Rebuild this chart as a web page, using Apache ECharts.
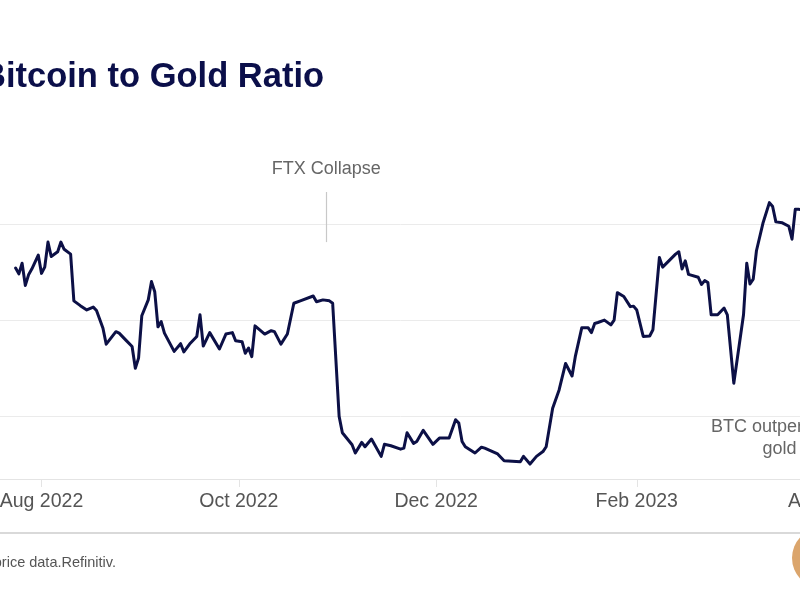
<!DOCTYPE html>
<html>
<head>
<meta charset="utf-8">
<script src="https://cdn.jsdelivr.net/npm/echarts@6/dist/echarts.min.js"></script>
<style>
html,body{margin:0;padding:0;background:#fff;}
#chart{width:800px;height:600px;}
</style>
</head>
<body>
<div id="chart"></div>
<script>
// ---- data ----
const dates = [
'2022-07-24','2022-07-25','2022-07-26','2022-07-27','2022-07-28','2022-07-29','2022-07-31',
'2022-08-01','2022-08-02','2022-08-03','2022-08-04','2022-08-06','2022-08-07','2022-08-08','2022-08-10','2022-08-11','2022-08-13','2022-08-15','2022-08-17','2022-08-18','2022-08-20','2022-08-21','2022-08-24','2022-08-25','2022-08-27','2022-08-29','2022-08-30','2022-08-31',
'2022-09-01','2022-09-03','2022-09-04','2022-09-05','2022-09-06','2022-09-07','2022-09-08','2022-09-11','2022-09-13','2022-09-14','2022-09-16','2022-09-18','2022-09-19','2022-09-20','2022-09-22','2022-09-25','2022-09-27','2022-09-29','2022-09-30',
'2022-10-02','2022-10-03','2022-10-04','2022-10-05','2022-10-06','2022-10-09','2022-10-11','2022-10-12','2022-10-14','2022-10-16','2022-10-18','2022-10-20','2022-10-24','2022-10-25','2022-10-27','2022-10-29','2022-10-30',
'2022-11-01','2022-11-02','2022-11-05','2022-11-06','2022-11-08','2022-11-09','2022-11-11','2022-11-14','2022-11-15','2022-11-17','2022-11-20','2022-11-21','2022-11-22','2022-11-24','2022-11-25','2022-11-27','2022-11-30',
'2022-12-02','2022-12-05','2022-12-07','2022-12-08','2022-12-09','2022-12-10','2022-12-13','2022-12-15','2022-12-16','2022-12-20','2022-12-22','2022-12-27','2022-12-28','2022-12-30',
'2023-01-01','2023-01-03','2023-01-04','2023-01-06','2023-01-08','2023-01-10','2023-01-12','2023-01-13','2023-01-15','2023-01-17','2023-01-18','2023-01-19','2023-01-20','2023-01-22','2023-01-24','2023-01-25','2023-01-26','2023-01-28','2023-01-30','2023-01-31',
'2023-02-01','2023-02-03','2023-02-05','2023-02-06','2023-02-08','2023-02-09','2023-02-13','2023-02-14','2023-02-15','2023-02-16','2023-02-17','2023-02-20','2023-02-21','2023-02-22','2023-02-23','2023-02-24','2023-02-26','2023-02-28',
'2023-03-01','2023-03-03','2023-03-06','2023-03-07','2023-03-08','2023-03-09','2023-03-10','2023-03-12','2023-03-14','2023-03-15','2023-03-16','2023-03-18','2023-03-20','2023-03-21','2023-03-22','2023-03-23','2023-03-25'
];
const ratio = [
13.08,12.96,13.18,12.72,12.94,13.06,13.35,
12.97,13.10,13.62,13.32,13.42,13.62,13.47,13.37,12.40,12.30,12.21,12.27,12.20,11.83,11.50,11.76,11.73,11.59,11.45,11.00,11.21,
12.09,12.42,12.80,12.59,11.86,11.97,11.73,11.35,11.51,11.34,11.52,11.66,12.11,11.46,11.74,11.40,11.71,11.74,11.57,
11.55,11.31,11.42,11.24,11.88,11.71,11.78,11.76,11.50,11.71,12.35,12.40,12.50,12.38,12.42,12.40,12.35,
10.00,9.66,9.41,9.24,9.46,9.37,9.53,9.17,9.42,9.39,9.32,9.34,9.66,9.44,9.48,9.71,9.42,
9.55,9.55,9.93,9.86,9.48,9.37,9.24,9.36,9.34,9.22,9.08,9.06,9.17,9.01,
9.17,9.27,9.37,10.17,10.55,11.10,10.84,11.24,11.84,11.84,11.74,11.93,11.95,12.00,11.90,12.00,12.57,12.49,12.28,12.29,
12.21,11.66,11.67,11.80,13.30,13.10,13.37,13.42,13.06,13.23,12.95,12.89,12.74,12.82,12.78,12.11,12.11,12.25,
12.11,10.69,12.11,13.18,12.75,12.85,13.44,14.01,14.44,14.36,14.04,14.02,13.95,13.68,14.30,14.30,14.28
];
const gridValues = [10, 12, 14];
const tickDates = ['2022-08-01','2022-10-01','2022-12-01','2023-02-01','2023-04-01'];
const tickLabels = ['Aug 2022','Oct 2022','Dec 2022','Feb 2023','Apr 2023'];
const ftxDate = '2022-10-28';
const ftxRange = [14.66, 13.62];

// ---- build ----
const P = s => +echarts.number.parseDate(s);
const tickTs = tickDates.map(P);
const seriesData = dates.map((d, i) => [P(d), ratio[i]]);
const ftxTs = P(ftxDate);

const chart = echarts.init(document.getElementById('chart'), null, {renderer: 'canvas'});
const FONT = "'Liberation Sans', Arial, Helvetica, sans-serif";

chart.setOption({
  animation: false,
  backgroundColor: '#ffffff',
  grid: {left: 0, right: -70, top: 127.5, bottom: 121, containLabel: false, outerBoundsMode: 'none'},
  xAxis: {
    type: 'value',
    min: P('2022-07-19T04:05:00'),
    max: P('2023-04-14T02:24:00'),
    axisLine: {show: true, lineStyle: {color: '#e4e4e4', width: 1}},
    axisTick: {show: true, customValues: tickTs, length: 8, lineStyle: {color: '#e4e4e4', width: 1}},
    axisLabel: {
      show: true,
      customValues: tickTs,
      margin: 13,
      color: '#555555',
      fontSize: 19.5,
      fontFamily: FONT,
      hideOverlap: false,
      showMinLabel: true,
      showMaxLabel: true,
      formatter: function (v) {
        const i = tickTs.indexOf(v);
        return i >= 0 ? tickLabels[i] : '';
      }
    },
    splitLine: {show: false}
  },
  yAxis: {
    type: 'value',
    min: 8.7,
    max: 16,
    axisLine: {show: false},
    axisTick: {show: false},
    axisLabel: {show: false},
    splitLine: {show: false}
  },
  series: [{
    type: 'line',
    data: seriesData,
    showSymbol: false,
    symbol: 'none',
    lineStyle: {color: '#0c1046', width: 3, join: 'round', cap: 'round'},
    z: 3,
    markLine: {
      silent: true,
      z: 1,
      symbol: ['none', 'none'],
      animation: false,
      data: gridValues.map(v => ({
        yAxis: v,
        lineStyle: {color: '#ebebeb', width: 1, type: 'solid'},
        label: {show: false}
      })).concat([[
        {
          coord: [ftxTs, ftxRange[0]],
          lineStyle: {color: '#c8c8c8', width: 1.2, type: 'solid'},
          label: {show: true, position: 'start', formatter: 'FTX Collapse', color: '#666666', fontSize: 18, fontFamily: FONT, distance: 14}
        },
        {coord: [ftxTs, ftxRange[1]]}
      ]])
    }
  }],
  graphic: [
    {type: 'text', x: -19, y: 60, style: {text: 'Bitcoin to Gold Ratio', align: 'left', verticalAlign: 'top', fill: '#0b0f4a', font: "bold 34.5px " + FONT}, silent: true},
    {type: 'line', shape: {x1: 0, y1: 533, x2: 800, y2: 533}, style: {stroke: '#cccccc', lineWidth: 1.5}, silent: true},
    {type: 'text', x: 116, y: 563, style: {text: 'price data.Refinitiv.', align: 'right', verticalAlign: 'middle', fill: '#555555', font: "14.5px " + FONT}, silent: true},
    {type: 'text', x: 779.5, y: 438, style: {text: 'BTC outperforms\ngold', align: 'center', verticalAlign: 'middle', fill: '#666666', font: "18px " + FONT, lineHeight: 22}, silent: true},
    {type: 'circle', shape: {cx: 822, cy: 558, r: 30}, style: {fill: '#dba56c'}, silent: true}
  ]
});
</script>
</body>
</html>
